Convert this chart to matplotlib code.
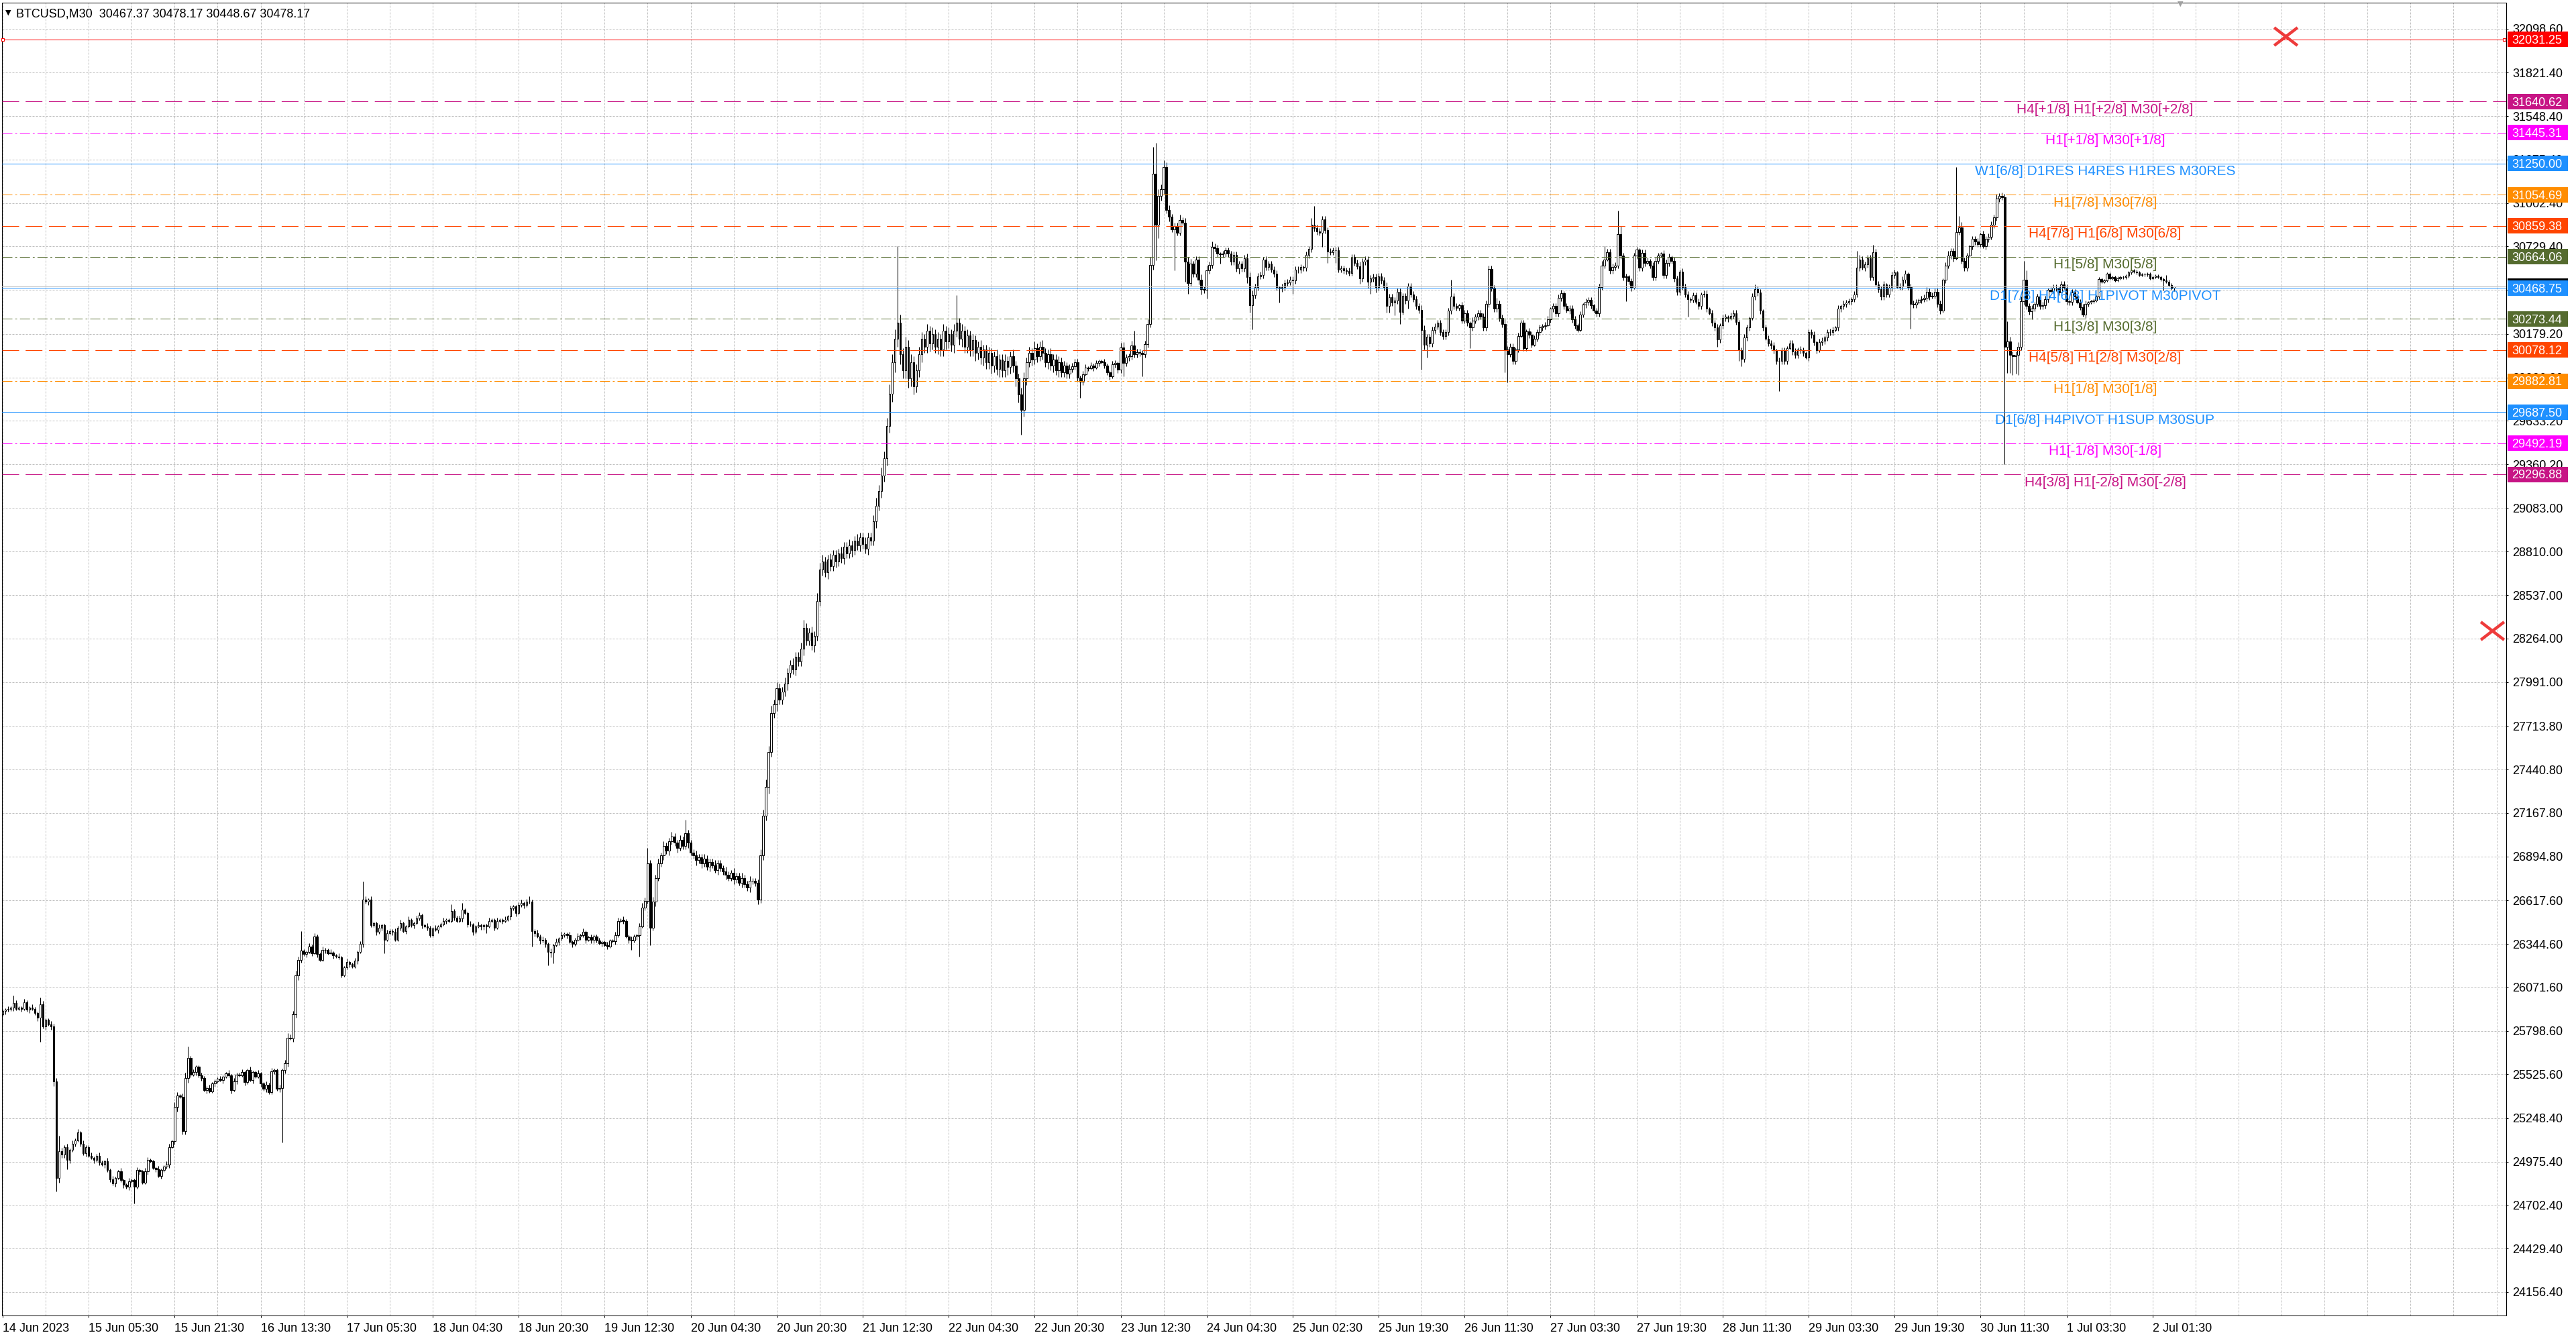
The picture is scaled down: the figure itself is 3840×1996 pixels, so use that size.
import numpy as np
import matplotlib
matplotlib.use("Agg")
import matplotlib.pyplot as plt
import matplotlib.transforms as mtransforms
from matplotlib.patches import Rectangle
from matplotlib.path import Path

plt.rcParams['font.family'] = ['Liberation Sans', 'DejaVu Sans']

# ---- M30 bars, BTCUSD (close of each bar, open = previous close) ----
first_open = 25902
closes = [
    25923, 25930, 25934, 25944, 25972, 25937, 25944, 25937, 25979, 25930, 25944, 25937, 25909, 25881, 25965, 25825, 25867, 25839, 25825, 25482,
    24873, 25041, 25020, 25069, 24985, 25048, 25090, 25111, 25160, 25090, 25027, 25069, 25013, 24999, 24985, 25013, 24971, 24957, 24978, 24922,
    24866, 24838, 24873, 24915, 24859, 24831, 24817, 24852, 24859, 24817, 24922, 24915, 24845, 24915, 24985, 24978, 24936, 24929, 24887, 24922,
    24943, 24957, 25069, 25104, 25321, 25391, 25385, 25167, 25503, 25629, 25524, 25538, 25573, 25517, 25503, 25426, 25440, 25419, 25468, 25482,
    25496, 25489, 25510, 25531, 25517, 25426, 25482, 25524, 25520, 25538, 25475, 25552, 25489, 25538, 25510, 25531, 25468, 25433, 25461, 25412,
    25545, 25552, 25433, 25440, 25552, 25594, 25755, 25750, 25902, 26147, 26245, 26301, 26280, 26294, 26329, 26287, 26392, 26280, 26245, 26308,
    26305, 26287, 26290, 26273, 26266, 26259, 26147, 26196, 26231, 26217, 26203, 26238, 26294, 26343, 26623, 26609, 26623, 26462, 26476, 26420,
    26448, 26462, 26371, 26413, 26427, 26420, 26371, 26448, 26476, 26427, 26455, 26497, 26462, 26476, 26504, 26525, 26462, 26455, 26448, 26399,
    26441, 26434, 26455, 26469, 26490, 26497, 26490, 26553, 26511, 26490, 26504, 26560, 26539, 26469, 26466, 26420, 26455, 26462, 26455, 26462,
    26455, 26490, 26497, 26448, 26490, 26497, 26490, 26497, 26518, 26567, 26581, 26539, 26588, 26602, 26588, 26609, 26612, 26427, 26413, 26392,
    26364, 26371, 26343, 26294, 26290, 26336, 26357, 26378, 26399, 26406, 26399, 26357, 26343, 26371, 26392, 26399, 26420, 26371, 26385, 26371,
    26392, 26364, 26350, 26357, 26336, 26329, 26364, 26362, 26399, 26490, 26497, 26490, 26392, 26371, 26364, 26392, 26399, 26455, 26574, 26616,
    26850, 26448, 26610, 26760, 26850, 26900, 26960, 26930, 26990, 27020, 26980, 26950, 27000, 26960, 27040, 26980, 26920, 26900, 26870, 26890,
    26850, 26880, 26830, 26860, 26840, 26810, 26850, 26820, 26800, 26780, 26760, 26790, 26750, 26770, 26730, 26760, 26720, 26700, 26740, 26740,
    26728, 26623, 26900, 27150, 27330, 27550, 27794, 27850, 27950, 27880, 27930, 27980, 28050, 28100, 28070, 28150, 28120, 28200, 28330, 28250,
    28300, 28220, 28280, 28500, 28700, 28750, 28680, 28760, 28720, 28790, 28750, 28800, 28770, 28840, 28800, 28850, 28820, 28880, 28850, 28900,
    28860, 28830, 28900, 28880, 29000, 29100, 29190, 29290, 29400, 29600, 29804, 30000, 30150, 30250, 30050, 29950, 30100, 29900, 30000, 29850,
    29950, 30050, 30150, 30100, 30200, 30120, 30180, 30100, 30150, 30080, 30200, 30130, 30180, 30110, 30200, 30250, 30150, 30200, 30100, 30170,
    30080, 30140, 30060, 30100, 30030, 30080, 30000, 30060, 29980, 30040, 29960, 30020, 29950, 30010, 29970, 30040, 29980, 29900, 29800, 29700,
    29900, 30000, 30060, 30020, 30090, 30040, 30100, 30060, 30000, 30050, 29980, 30020, 29950, 30000, 29940, 29980, 29930, 29960, 29975, 30003,
    29905, 29877, 29926, 29968, 29965, 29982, 29968, 29996, 30010, 30003, 29982, 29940, 29912, 29989, 29996, 29954, 30094, 29996, 30031, 30038,
    30108, 30052, 30066, 30059, 30052, 30115, 30242, 30613, 31188, 30866, 31048, 31090, 31230, 30957, 30915, 30838, 30859, 30817, 30894, 30880,
    30634, 30501, 30620, 30557, 30648, 30522, 30459, 30455, 30578, 30613, 30726, 30719, 30683, 30680, 30683, 30704, 30683, 30634, 30676, 30592,
    30620, 30592, 30655, 30536, 30361, 30424, 30473, 30543, 30550, 30648, 30599, 30620, 30585, 30557, 30473, 30466, 30473, 30501, 30505, 30522,
    30515, 30585, 30582, 30599, 30596, 30676, 30712, 30866, 30845, 30824, 30817, 30901, 30831, 30697, 30694, 30704, 30707, 30585, 30590, 30578,
    30575, 30564, 30662, 30627, 30606, 30529, 30634, 30648, 30508, 30529, 30536, 30473, 30543, 30515, 30473, 30354, 30410, 30375, 30389, 30445,
    30319, 30417, 30389, 30480, 30429, 30399, 30354, 30330, 30204, 30113, 30160, 30120, 30204, 30226, 30249, 30190, 30165, 30189, 30324, 30414,
    30354, 30345, 30360, 30264, 30309, 30249, 30219, 30264, 30286, 30309, 30290, 30219, 30369, 30587, 30467, 30339, 30369, 30279, 30240, 30083,
    30053, 30098, 30008, 30083, 30166, 30249, 30091, 30196, 30174, 30113, 30151, 30189, 30219, 30230, 30234, 30271, 30339, 30354, 30309, 30407,
    30437, 30354, 30324, 30339, 30271, 30234, 30204, 30302, 30362, 30380, 30392, 30360, 30324, 30309, 30475, 30610, 30648, 30693, 30580, 30600,
    30610, 30806, 30670, 30535, 30540, 30510, 30470, 30670, 30708, 30595, 30690, 30625, 30640, 30610, 30535, 30640, 30670, 30685, 30550, 30625,
    30663, 30640, 30527, 30444, 30572, 30475, 30429, 30399, 30395, 30422, 30380, 30354, 30429, 30432, 30339, 30309, 30249, 30220, 30143, 30234,
    30279, 30286, 30275, 30294, 30309, 30256, 30076, 30023, 30158, 30219, 30279, 30414, 30460, 30440, 30324, 30219, 30151, 30121, 30106, 30076,
    30008, 30010, 30076, 30008, 30091, 30121, 30068, 30046, 30083, 30076, 30060, 30031, 30189, 30174, 30128, 30076, 30128, 30136, 30158, 30189,
    30192, 30204, 30219, 30339, 30354, 30369, 30375, 30384, 30399, 30429, 30595, 30648, 30595, 30615, 30655, 30535, 30693, 30490, 30460, 30414,
    30490, 30429, 30470, 30550, 30565, 30475, 30478, 30520, 30557, 30475, 30369, 30362, 30377, 30392, 30399, 30407, 30444, 30414, 30420, 30444,
    30369, 30324, 30520, 30610, 30670, 30700, 30655, 30821, 30851, 30640, 30595, 30670, 30730, 30776, 30760, 30745, 30806, 30730, 30776, 30791,
    30866, 30911, 31031, 31046, 31040, 30098, 30132, 30048, 30041, 30048, 30097, 30384, 30518, 30354, 30320, 30340, 30370, 30413, 30356, 30360,
    30398, 30455, 30450, 30470, 30469, 30441, 30490, 30470, 30384, 30380, 30441, 30413, 30377, 30349, 30300, 30370, 30377, 30384, 30391, 30413,
    30523, 30508, 30516, 30558, 30530, 30537, 30516, 30530, 30537, 30535, 30544, 30565, 30579, 30572, 30565, 30551, 30554, 30552, 30558, 30530,
    30537, 30544, 30537, 30523, 30516, 30508, 30487, 30467, 30478.17,
]
last_open = 30467.37

# upper / lower shadow of ordinary bars, in units of 10 USD
up_wick10 = [
    1, 1, 2, 1, 3, 2, 1, 1, 2, 1, 1, 2, 1, 1, 2, 2, 1, 1, 2, 2,
    2, 4, 2, 1, 2, 1, 2, 1, 2, 1, 2, 1, 1, 2, 1, 1, 2, 1, 1, 2,
    1, 2, 1, 1, 2, 1, 1, 2, 1, 1, 2, 1, 1, 2, 2, 1, 1, 1, 2, 1,
    1, 2, 2, 1, 3, 2, 1, 2, 3, 2, 1, 2, 1, 1, 2, 1, 1, 2, 1, 1,
    1, 2, 1, 1, 2, 1, 2, 1, 1, 2, 1, 1, 2, 1, 1, 2, 1, 1, 2, 1,
    2, 1, 1, 2, 1, 2, 3, 2, 2, 3, 2, 3, 1, 1, 2, 1, 2, 1, 1, 2,
    1, 1, 2, 1, 1, 2, 1, 1, 2, 1, 1, 2, 1, 2, 3, 2, 1, 2, 1, 1,
    2, 1, 1, 2, 1, 1, 2, 1, 2, 1, 1, 2, 1, 1, 2, 2, 1, 1, 2, 1,
    1, 2, 1, 1, 2, 1, 1, 3, 1, 1, 2, 3, 1, 1, 2, 1, 1, 2, 1, 1,
    1, 2, 1, 1, 2, 1, 1, 2, 1, 2, 1, 1, 2, 2, 1, 2, 2, 1, 1, 2,
    1, 2, 1, 1, 2, 1, 2, 1, 2, 1, 1, 2, 1, 1, 2, 1, 2, 1, 1, 2,
    1, 1, 2, 1, 1, 2, 1, 1, 2, 2, 1, 2, 1, 1, 2, 1, 1, 2, 3, 2,
    3, 2, 3, 2, 3, 2, 3, 2, 2, 3, 2, 2, 3, 2, 8, 2, 2, 2, 3, 2,
    2, 3, 2, 2, 2, 3, 2, 2, 2, 3, 2, 2, 3, 2, 2, 3, 2, 2, 3, 2,
    2, 2, 4, 4, 5, 4, 5, 3, 4, 3, 3, 4, 3, 3, 4, 3, 3, 4, 5, 3,
    3, 4, 3, 5, 4, 4, 3, 3, 4, 3, 3, 3, 4, 3, 3, 4, 3, 3, 4, 3,
    3, 4, 3, 3, 4, 5, 4, 5, 4, 5, 6, 5, 6, 4, 5, 4, 6, 4, 5, 4,
    4, 5, 4, 3, 4, 3, 4, 3, 4, 3, 4, 3, 4, 3, 4, 9, 3, 4, 3, 4,
    3, 4, 3, 3, 4, 3, 3, 4, 3, 3, 4, 3, 3, 4, 3, 3, 4, 3, 3, 4,
    4, 3, 4, 3, 4, 3, 3, 4, 3, 3, 4, 3, 3, 4, 3, 3, 2, 3, 2, 2,
    2, 1, 2, 2, 1, 2, 1, 2, 1, 1, 2, 1, 1, 2, 2, 1, 3, 3, 2, 2,
    3, 3, 2, 2, 2, 2, 3, 5, 5, 5, 4, 3, 4, 3, 3, 2, 2, 2, 2, 2,
    3, 3, 3, 2, 2, 2, 3, 2, 3, 2, 3, 2, 2, 1, 2, 2, 2, 2, 2, 2,
    2, 2, 2, 3, 3, 3, 2, 2, 2, 1, 2, 2, 2, 2, 2, 1, 2, 2, 2, 2,
    2, 2, 2, 2, 1, 2, 2, 4, 4, 2, 2, 2, 2, 2, 2, 2, 2, 2, 2, 2,
    2, 2, 2, 2, 2, 3, 2, 2, 2, 2, 2, 2, 2, 2, 2, 3, 2, 2, 2, 2,
    2, 2, 2, 2, 2, 2, 2, 2, 3, 3, 2, 2, 2, 2, 2, 2, 2, 2, 2, 3,
    2, 2, 1, 2, 2, 2, 1, 2, 2, 2, 2, 2, 2, 3, 2, 2, 3, 2, 2, 3,
    2, 2, 2, 1, 2, 2, 2, 1, 2, 2, 2, 2, 2, 1, 2, 2, 1, 2, 2, 2,
    2, 1, 2, 2, 2, 2, 1, 2, 1, 2, 2, 2, 1, 2, 2, 3, 3, 2, 2, 2,
    2, 5, 3, 2, 2, 1, 2, 2, 2, 1, 2, 2, 2, 1, 2, 2, 2, 1, 2, 2,
    2, 1, 2, 2, 1, 2, 2, 2, 1, 2, 2, 2, 1, 2, 2, 1, 2, 2, 2, 1,
    2, 2, 1, 2, 2, 2, 1, 2, 2, 2, 1, 2, 3, 2, 2, 1, 2, 2, 2, 2,
    1, 2, 2, 2, 1, 2, 2, 2, 1, 2, 2, 1, 2, 2, 2, 1, 2, 2, 1, 2,
    2, 2, 1, 2, 1, 2, 2, 2, 1, 2, 3, 3, 2, 2, 2, 2, 3, 2, 2, 2,
    2, 1, 2, 2, 2, 1, 2, 2, 2, 1, 2, 2, 2, 1, 2, 2, 3, 2, 2, 2,
    2, 2, 1, 2, 3, 2, 2, 9, 4, 3, 2, 2, 1, 2, 2, 2, 1, 2, 2, 2,
    2, 2, 3, 2, 3, 2, 3, 3, 2, 2, 3, 3, 4, 4, 2, 2, 1, 2, 2, 2,
    2, 1, 2, 2, 2, 1, 2, 2, 2, 1, 2, 2, 1, 2, 2, 2, 1, 1, 1, 1,
    1, 1, 1, 1, 1, 1, 1, 1, 1, 1, 1, 1, 1, 1, 1, 1, 1, 1, 1, 1,
    1, 1, 1, 1, 1, 1, 1, 1, 1,
]
dn_wick10 = [
    1, 2, 1, 1, 2, 1, 1, 2, 1, 1, 2, 1, 1, 2, 2, 1, 2, 1, 2, 3,
    4, 3, 2, 2, 3, 2, 1, 2, 1, 2, 1, 2, 1, 1, 2, 1, 2, 1, 2, 1,
    2, 1, 2, 1, 1, 2, 1, 2, 1, 3, 1, 2, 1, 1, 2, 1, 1, 2, 1, 2,
    1, 1, 2, 1, 2, 3, 1, 2, 2, 3, 2, 1, 2, 1, 2, 1, 2, 1, 1, 2,
    1, 1, 2, 1, 1, 2, 1, 2, 1, 1, 2, 1, 1, 2, 1, 1, 2, 1, 2, 1,
    1, 2, 1, 2, 5, 2, 2, 1, 2, 2, 3, 2, 1, 2, 1, 2, 1, 2, 1, 1,
    2, 1, 1, 2, 1, 1, 3, 1, 1, 2, 1, 1, 2, 1, 2, 1, 2, 1, 1, 2,
    1, 2, 3, 1, 1, 2, 1, 1, 2, 1, 2, 1, 1, 2, 1, 1, 2, 1, 2, 2,
    1, 1, 2, 1, 1, 2, 1, 1, 2, 1, 1, 2, 1, 2, 1, 2, 1, 1, 2, 2,
    3, 1, 1, 2, 1, 1, 2, 1, 1, 2, 1, 2, 1, 1, 2, 1, 1, 4, 2, 1,
    2, 1, 2, 4, 3, 3, 1, 2, 1, 1, 2, 1, 2, 1, 1, 2, 1, 2, 1, 2,
    2, 1, 1, 2, 1, 2, 1, 1, 2, 1, 1, 2, 1, 2, 3, 1, 2, 3, 1, 2,
    2, 3, 2, 3, 2, 2, 3, 2, 3, 2, 2, 3, 2, 2, 2, 3, 2, 2, 3, 2,
    3, 2, 2, 3, 2, 2, 3, 2, 2, 3, 2, 2, 3, 2, 2, 3, 2, 2, 3, 2,
    2, 3, 2, 3, 3, 4, 3, 3, 4, 3, 3, 3, 4, 3, 3, 4, 3, 3, 4, 3,
    3, 3, 4, 3, 3, 4, 3, 4, 3, 3, 4, 3, 3, 4, 3, 3, 4, 3, 3, 4,
    3, 3, 4, 3, 3, 4, 3, 4, 4, 5, 4, 5, 6, 5, 6, 5, 5, 6, 5, 5,
    4, 4, 5, 4, 4, 5, 4, 4, 5, 4, 4, 5, 4, 4, 5, 4, 4, 5, 4, 4,
    4, 4, 5, 4, 4, 5, 4, 4, 5, 4, 4, 5, 4, 4, 5, 4, 4, 5, 5, 9,
    4, 4, 3, 4, 3, 4, 3, 4, 3, 4, 3, 4, 3, 4, 3, 3, 3, 3, 2, 2,
    2, 2, 2, 1, 2, 1, 2, 1, 2, 1, 2, 2, 2, 1, 2, 2, 2, 3, 2, 2,
    2, 2, 2, 2, 3, 2, 2, 2, 3, 5, 4, 3, 3, 2, 3, 2, 3, 2, 2, 2,
    3, 3, 2, 2, 2, 3, 3, 2, 3, 2, 2, 2, 2, 3, 2, 2, 2, 2, 2, 2,
    2, 2, 2, 2, 3, 3, 2, 2, 2, 2, 2, 2, 2, 2, 2, 3, 2, 2, 2, 2,
    3, 2, 2, 2, 2, 2, 2, 2, 2, 2, 2, 3, 2, 3, 2, 2, 3, 2, 2, 2,
    2, 2, 2, 2, 2, 2, 2, 2, 3, 3, 2, 3, 2, 2, 2, 3, 3, 2, 3, 2,
    3, 2, 2, 3, 2, 2, 2, 2, 3, 3, 3, 2, 2, 2, 2, 2, 2, 2, 2, 2,
    2, 2, 2, 2, 2, 2, 3, 2, 2, 2, 2, 2, 2, 2, 2, 2, 2, 2, 2, 3,
    3, 2, 2, 2, 2, 1, 2, 2, 2, 2, 1, 2, 2, 2, 2, 1, 2, 2, 2, 2,
    2, 2, 1, 2, 2, 2, 2, 1, 2, 2, 2, 2, 1, 2, 2, 2, 2, 1, 2, 2,
    2, 2, 2, 2, 3, 2, 2, 1, 2, 2, 2, 2, 1, 2, 2, 2, 2, 1, 2, 2,
    2, 2, 2, 2, 2, 2, 2, 3, 2, 2, 1, 2, 2, 2, 2, 1, 2, 2, 3, 2,
    2, 2, 2, 1, 2, 2, 3, 3, 2, 2, 2, 1, 2, 2, 2, 2, 1, 2, 2, 2,
    2, 3, 2, 2, 2, 1, 2, 2, 2, 2, 2, 1, 3, 2, 2, 2, 1, 2, 2, 2,
    2, 2, 1, 2, 2, 2, 2, 1, 2, 2, 2, 2, 1, 2, 2, 2, 2, 1, 2, 2,
    2, 2, 2, 2, 2, 1, 2, 2, 2, 2, 4, 2, 2, 1, 2, 2, 2, 2, 1, 2,
    2, 2, 1, 2, 2, 2, 2, 1, 2, 2, 2, 2, 1, 2, 2, 2, 2, 1, 2, 2,
    2, 2, 2, 2, 2, 2, 3, 3, 3, 3, 3, 2, 2, 2, 2, 3, 2, 2, 2, 2,
    2, 2, 1, 2, 2, 2, 2, 1, 2, 2, 2, 2, 1, 2, 2, 2, 2, 1, 1, 1,
    1, 1, 1, 1, 1, 1, 1, 1, 1, 1, 1, 1, 1, 1, 1, 1, 1, 1, 1, 1,
    1, 1, 1, 1, 1, 1, 1, 1, 1,
]

# long shadows (bar index -> price)
spike_high = {4: 26021, 14: 26007, 21: 25139, 69: 25699, 111: 26427, 134: 26735, 167: 26595,
              171: 26602, 196: 26644, 240: 26950, 254: 27123, 298: 28380, 333: 30733, 355: 30423,
              417: 30129, 421: 30200, 428: 31357, 429: 31381, 438: 30929, 450: 30761, 469: 30662,
              487: 30908, 488: 30985, 491: 30922, 507: 30669, 539: 30520, 553: 30610, 556: 30407,
              596: 30730, 601: 30956, 602: 30858, 652: 30490, 690: 30700, 696: 30738, 716: 30475,
              724: 30700, 727: 31227, 728: 30919, 742: 31061, 744: 31070, 746: 30258, 752: 30640,
              753: 30580, 780: 30537, 805: 30551, 808: 30478.17}
spike_low = {14: 25727, 20: 24789, 24: 24929, 49: 24712, 104: 25097, 126: 26133, 142: 26287,
             159: 26385, 180: 26413, 197: 26329, 203: 26210, 205: 26224, 234: 26308, 237: 26266,
             241: 26336, 379: 29547, 401: 29779, 417: 29912, 424: 29912, 429: 30641, 430: 30782,
             436: 30578, 440: 30508, 441: 30431, 448: 30403, 453: 30620, 460: 30557, 463: 30501,
             464: 30312, 465: 30207, 475: 30375, 480: 30431, 491: 30726, 493: 30627, 496: 30627,
             505: 30494, 508: 30466, 509: 30431, 511: 30438, 515: 30312, 516: 30312, 518: 30298,
             520: 30242, 523: 30340, 528: 29955, 530: 30031, 546: 30091, 559: 29940, 560: 29873,
             586: 30189, 604: 30384, 627: 30286, 638: 30098, 646: 30008, 647: 29978, 661: 29820,
             672: 30008, 710: 30211, 745: 29361, 746: 29935, 747: 29935, 748: 29921, 749: 29930,
             750: 29921, 755: 30272, 774: 30286, 804: 30452, 808: 30448.67}

time_labels = ["14 Jun 2023", "15 Jun 05:30", "15 Jun 21:30", "16 Jun 13:30", "17 Jun 05:30",
               "18 Jun 04:30", "18 Jun 20:30", "19 Jun 12:30", "20 Jun 04:30", "20 Jun 20:30",
               "21 Jun 12:30", "22 Jun 04:30", "22 Jun 20:30", "23 Jun 12:30", "24 Jun 04:30",
               "25 Jun 02:30", "25 Jun 19:30", "26 Jun 11:30", "27 Jun 03:30", "27 Jun 19:30",
               "28 Jun 11:30", "29 Jun 03:30", "29 Jun 19:30", "30 Jun 11:30", "1 Jul 03:30",
               "2 Jul 01:30"]
price_ticks = [32098.60, 31821.40, 31548.40, 31275.40, 31002.40, 30729.40, 30456.40, 30179.20,
               29906.20, 29633.20, 29360.20, 29083.00, 28810.00, 28537.00, 28264.00, 27991.00,
               27713.80, 27440.80, 27167.80, 26894.80, 26617.60, 26344.60, 26071.60, 25798.60,
               25525.60, 25248.40, 24975.40, 24702.40, 24429.40, 24156.40]

# Murrey math levels
level_prices = [31640.62, 31445.31, 31250.00, 31054.69, 30859.38, 30664.06, 30468.75,
                30273.44, 30078.12, 29882.81, 29687.50, 29492.19, 29296.88]
level_names = ["H4[+1/8] H1[+2/8] M30[+2/8]", "H1[+1/8] M30[+1/8]",
               "W1[6/8] D1RES H4RES H1RES M30RES", "H1[7/8] M30[7/8]",
               "H4[7/8] H1[6/8] M30[6/8]", "H1[5/8] M30[5/8]",
               "D1[7/8] H4[6/8] H1PIVOT M30PIVOT", "H1[3/8] M30[3/8]",
               "H4[5/8] H1[2/8] M30[2/8]", "H1[1/8] M30[1/8]",
               "D1[6/8] H4PIVOT H1SUP M30SUP", "H1[-1/8] M30[-1/8]",
               "H4[3/8] H1[-2/8] M30[-2/8]"]
red_level = 32031.25
bid_price = 30478.17
trade_marks = [(849.5, 32051), (926.4, 28314)]

assert len(closes) == len(up_wick10) == len(dn_wick10)

# ---- styles ----
VIOLET, MAGENTA, BLUE = "#C71585", "#FF00FF", "#1E90FF"
ORANGE, ORED, OLIVE = "#FF8C00", "#FF4500", "#556B2F"
DASH = (0, (25, 9.7))
DASHDOT = (0, (15, 4.2, 2.8, 4.2))
level_colors = [VIOLET, MAGENTA, BLUE, ORANGE, ORED, OLIVE, BLUE, OLIVE, ORED, ORANGE, BLUE, MAGENTA, VIOLET]
level_styles = [DASH, DASHDOT, "-", DASHDOT, DASH, DASHDOT, "-", DASHDOT, DASH, DASHDOT, "-", DASHDOT, DASH]
GRID = "#C0C0C0"
LW = 0.72  # one pixel at 100 dpi

W, H = 3840, 1996
fig = plt.figure(figsize=(W / 100, H / 100), dpi=100)
ax = fig.add_axes([3 / W, 35 / H, 3733 / W, 1957 / H])
ymin, ymax = 24008.4, 32261.8
xmin, xmax = -0.25, 931.6
dpp = (ymax - ymin) / 1957.0
blend = mtransforms.blended_transform_factory(ax.transAxes, ax.transData)

# ---- candles ----
n = len(closes)
x = np.arange(n)
c = np.array(closes, dtype=float)
o = np.r_[first_open, c[:-1]]
o[-1] = last_open
top = np.maximum(o, c)
bot = np.minimum(o, c)
hi = top + np.array(up_wick10) * 10.0
lo = bot - np.array(dn_wick10) * 10.0
for k, v in spike_high.items():
    hi[k] = max(v, top[k])
for k, v in spike_low.items():
    lo[k] = min(v, bot[k])

ax.vlines(x, lo, hi, color="black", linewidth=0.75, zorder=3)
bull = c >= o
ax.bar(x[bull], (top - bot)[bull], bottom=bot[bull], width=0.62, facecolor="white",
       edgecolor="black", linewidth=0.7, zorder=3.2)
ax.bar(x[~bull], (top - bot)[~bull], bottom=bot[~bull], width=0.62, facecolor="black",
       edgecolor="black", linewidth=0.7, zorder=3.2)

# ---- horizontal levels ----
ax.axhline(bid_price, color="#C0C0C0", linewidth=LW, zorder=3.5)
ax.axhline(red_level, color="#FF0000", linewidth=LW, zorder=4)
ax.plot([xmin + 0.35, xmax - 0.7], [red_level, red_level], "s", ms=2.6, mfc="white",
        mec="#FF0000", mew=0.8, zorder=4.1, clip_on=False)

for p, name, col, st in zip(level_prices, level_names, level_colors, level_styles):
    ax.axhline(p, color=col, linewidth=LW, linestyle=st, zorder=4)
    ax.text(0.8398, p - 2.5 * dpp, name, transform=blend, ha="center", va="top",
            fontsize=15, color=col, zorder=5)

# ---- price boxes on the right scale ----
box_h = 23 * dpp


def price_box(p, color, z):
    ax.add_patch(Rectangle((1.0005, p - box_h / 2), 90 / 3733, box_h, transform=blend,
                           facecolor=color, edgecolor="none", clip_on=False, zorder=z))
    ax.text(1.0022, p - 6.4 * dpp, f"{p:.2f}", transform=blend, ha="left", va="baseline",
            color="white", fontsize=13, clip_on=False, zorder=z + 0.1)


price_box(bid_price, "black", 6)
price_box(red_level, "#FF0000", 7)
for p, col in zip(level_prices, level_colors):
    price_box(p, col, 7)

# ---- trade marks (red crosses) ----
cross = Path([(-1.3, -1), (1.3, 1), (-1.3, 1), (1.3, -1)],
             [Path.MOVETO, Path.LINETO, Path.MOVETO, Path.LINETO])
for bx, py in trade_marks:
    ax.plot(bx, py, marker=cross, ms=25, mew=3.2, color="#EE3B3B", linestyle="none",
            zorder=8, clip_on=False)

# ---- axes, ticks, grid ----
ax.set_xlim(xmin, xmax)
ax.set_ylim(ymin, ymax)
ax.yaxis.tick_right()
ax.set_yticks(price_ticks)
ax.set_yticklabels([f"{t:.2f}" for t in price_ticks])
ax.set_xticks(np.arange(0, 32 * len(time_labels), 32))
ax.set_xticklabels(time_labels)
for lbl in ax.get_xticklabels():
    lbl.set_ha("left")
ax.set_xticks(np.arange(0, 932, 16), minor=True)
ax.tick_params(axis="both", which="major", direction="out", length=2.2, width=LW,
               labelsize=13, colors="black")
ax.tick_params(axis="y", pad=4.3)
ax.tick_params(axis="x", pad=5.5)
ax.tick_params(axis="x", which="minor", length=0)
ax.grid(True, axis="y", which="major", color=GRID, linewidth=LW, linestyle=(0, (3, 2)))
ax.grid(True, axis="x", which="both", color=GRID, linewidth=LW, linestyle=(0, (3, 2)))
for s in ax.spines.values():
    s.set_color("black")
    s.set_linewidth(LW)

# ---- header ----
fig.text(8 / W, 1 - 19 / H, "\u25BC", fontsize=8, family="DejaVu Sans", va="center")
fig.text(24 / W, 1 - 26 / H, "BTCUSD,M30  30467.37 30478.17 30448.67 30478.17",
         fontsize=13, va="baseline")
fig.text(3250 / W, 1 - 6 / H, "\u25BC", fontsize=8, family="DejaVu Sans", va="center",
         ha="center", color="#A0A0A0")

fig.savefig("out.png", dpi=100)
